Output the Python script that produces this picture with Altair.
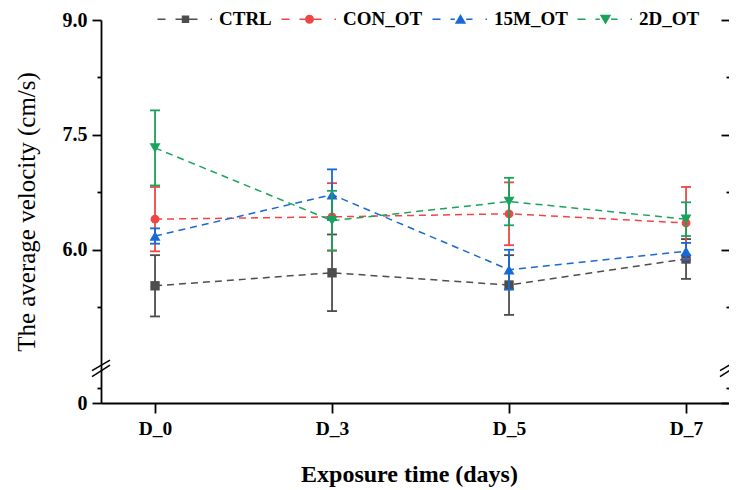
import altair as alt
import pandas as pd

# ---------------- data ----------------
DAYS = ["D_0", "D_3", "D_5", "D_7"]
SERIES = ["CTRL", "CON_OT", "15M_OT", "2D_OT"]

CTRL_MEAN = [5.53, 5.70, 5.54, 5.88]
CTRL_ERR = [0.40, 0.50, 0.39, 0.26]
CON_MEAN = [6.40, 6.43, 6.47, 6.35]
CON_ERR = [0.42, 0.44, 0.41, 0.47]
M15_MEAN = [6.18, 6.72, 5.74, 5.98]
M15_ERR = [0.10, 0.33, 0.26, 0.11]
D2_MEAN = [7.33, 6.38, 6.63, 6.40]
D2_ERR = [0.49, 0.39, 0.31, 0.22]

Y_MAJOR = [4.0, 6.0, 7.5, 9.0]
Y_LABELS = ["0", "6.0", "7.5", "9.0"]
Y_MINOR = [4.2, 5.25, 6.75, 8.25]
BREAK_LOW = [4.343, 4.422]
BREAK_HIGH = [4.496, 4.561]

# ---------------- styles ----------------
COLORS = ["#4d4d4d", "#f04545", "#1769d6", "#18a25c"]
MARKERS = ["square", "circle", "triangle-up", "triangle-down"]
MARKER_SIZES = [88, 78, 120, 120]
FONT = "Liberation Serif"
PLOT_W = 628


def dash(x0, x1):
    return f"M{x0},-0.8H{x1}V0.8H{x0}Z"


def legend_path(marker, half):
    base = dash(0, 8) + dash(18, 28 - half) + dash(28 + half, 40) + dash(53, 54.5)
    return base + marker


LEGEND_PATHS = [
    legend_path("M24.3,-3.7H31.7V3.7H24.3Z", 3.7),
    legend_path("M23.5,0A4.5,4.5 0 1 1 32.5,0A4.5,4.5 0 1 1 23.5,0Z", 4.5),
    legend_path("M28,-5.2L33.7,4.6L22.3,4.6Z", 5.7),
    legend_path("M28,5.2L33.7,-4.6L22.3,-4.6Z", 5.7),
]

rows = []
for s, means, errs in zip(SERIES, [CTRL_MEAN, CON_MEAN, M15_MEAN, D2_MEAN],
                          [CTRL_ERR, CON_ERR, M15_ERR, D2_ERR]):
    for d, m, e in zip(DAYS, means, errs):
        rows.append({"series": s, "day": d, "mean": m, "lo": m - e, "hi": m + e})
df = pd.DataFrame(rows)

major_test = " || ".join(f"datum.value == {v}" for v in Y_MAJOR)
label_expr = "".join(f"datum.value == {v} ? '{t}' : " for v, t in zip(Y_MAJOR, Y_LABELS)) + "''"

yscale = alt.Scale(domain=[4, 9], nice=False, zero=False)
cscale = alt.Scale(domain=SERIES, range=COLORS)

left_axis = alt.Axis(
    values=Y_MAJOR + Y_MINOR, labelExpr=label_expr,
    tickSize={"condition": {"test": major_test, "value": 9}, "value": 4},
    domainColor="black", domainWidth=1.8, tickColor="black", tickWidth=1.8,
    labelFont=FONT, labelFontWeight="bold", labelFontSize=20, labelColor="black",
    labelPadding=5, grid=False,
    title="The average velocity (cm/s)", titleFont=FONT, titleFontWeight="normal",
    titleFontSize=25, titleColor="black", titleX=-75, titleBaseline="middle",
)
right_axis = alt.Axis(
    orient="right", values=Y_MAJOR + Y_MINOR, labels=False, domain=False,
    tickSize={"expr": f"({major_test}) ? -8 : -3"},
    tickColor="black", tickWidth=1.8, grid=False, title=None,
)
x_axis = alt.Axis(
    domainColor="black", domainWidth=1.8, tickColor="black", tickWidth=1.8, tickSize=10,
    labelFont=FONT, labelFontWeight="bold", labelFontSize=19.5, labelColor="black",
    labelPadding=6, labelAngle=0, grid=False,
    title="Exposure time (days)", titleFont=FONT, titleFontWeight="bold",
    titleFontSize=24, titleColor="black", titlePadding=25, titleX=308,
)

xenc = alt.X("day:O", scale=alt.Scale(type="point", domain=DAYS, padding=0.274, align=0.557),
             axis=x_axis)


def yenc(field, axis=None):
    return alt.Y(f"{field}:Q", scale=yscale, axis=axis)


color_enc = alt.Color("series:N", scale=cscale, legend=None)

# legend layer first so that its explicit legend settings win when merged
legend = alt.Legend(
    orient="none", legendX=47, legendY=-10.5, direction="horizontal", title=None,
    labelFont=FONT, labelFontWeight="bold", labelFontSize=19, labelColor="black",
    symbolSize=4, symbolStrokeWidth=0, symbolOffset=0, labelOffset=52,
    columnPadding=-4, padding=0,
)
ldf = pd.DataFrame({"series": SERIES})
legend_layer = alt.Chart(ldf).mark_point(filled=True, opacity=1, clip=True, size=4).encode(
    x=alt.value(-500), y=alt.value(-500),
    color=alt.Color("series:N", scale=cscale, legend=legend),
    shape=alt.Shape("series:N", scale=alt.Scale(domain=SERIES, range=LEGEND_PATHS), legend=legend),
)

layers = [legend_layer]
for i, s in enumerate(SERIES):
    c = alt.Chart(df[df.series == s])
    line = c.mark_line(strokeDash=[7, 5], strokeWidth=1.5).encode(
        x=xenc, y=yenc("mean", left_axis if i == 0 else None), color=color_enc)
    rule = c.mark_rule(strokeWidth=1.8).encode(
        x=xenc, y=yenc("lo", right_axis if i == 0 else None), y2="hi:Q", color=color_enc)
    cap_lo = c.mark_tick(size=10, thickness=1.8, opacity=1).encode(
        x=xenc, y=yenc("lo"), color=color_enc)
    cap_hi = c.mark_tick(size=10, thickness=1.8, opacity=1).encode(
        x=xenc, y=yenc("hi"), color=color_enc)
    pt = c.mark_point(filled=True, shape=MARKERS[i], size=MARKER_SIZES[i], opacity=1).encode(
        x=xenc, y=yenc("mean"), color=color_enc)
    layers += [line, rule, cap_lo, cap_hi, pt]

bdf = pd.DataFrame({"lo": BREAK_LOW, "hi": BREAK_HIGH})
break_left = alt.Chart(bdf).mark_rule(color="black", strokeWidth=1.5).encode(
    x=alt.value(-9), x2=alt.value(9), y=yenc("lo"), y2="hi:Q")
break_right = alt.Chart(bdf).mark_rule(color="black", strokeWidth=1.5).encode(
    x=alt.value(PLOT_W - 9), x2=alt.value(PLOT_W + 9), y=yenc("lo"), y2="hi:Q")

chart = alt.layer(*layers, break_left, break_right).properties(
    width=PLOT_W, height=383,
    autosize=alt.AutoSizeParams(type="none"),
    padding={"left": 93, "top": 12, "right": 0, "bottom": 90},
    background="white",
).resolve_axis(y="independent").configure_view(stroke=None)

chart.save("out.html", embed_options={"renderer": "svg", "actions": False})
